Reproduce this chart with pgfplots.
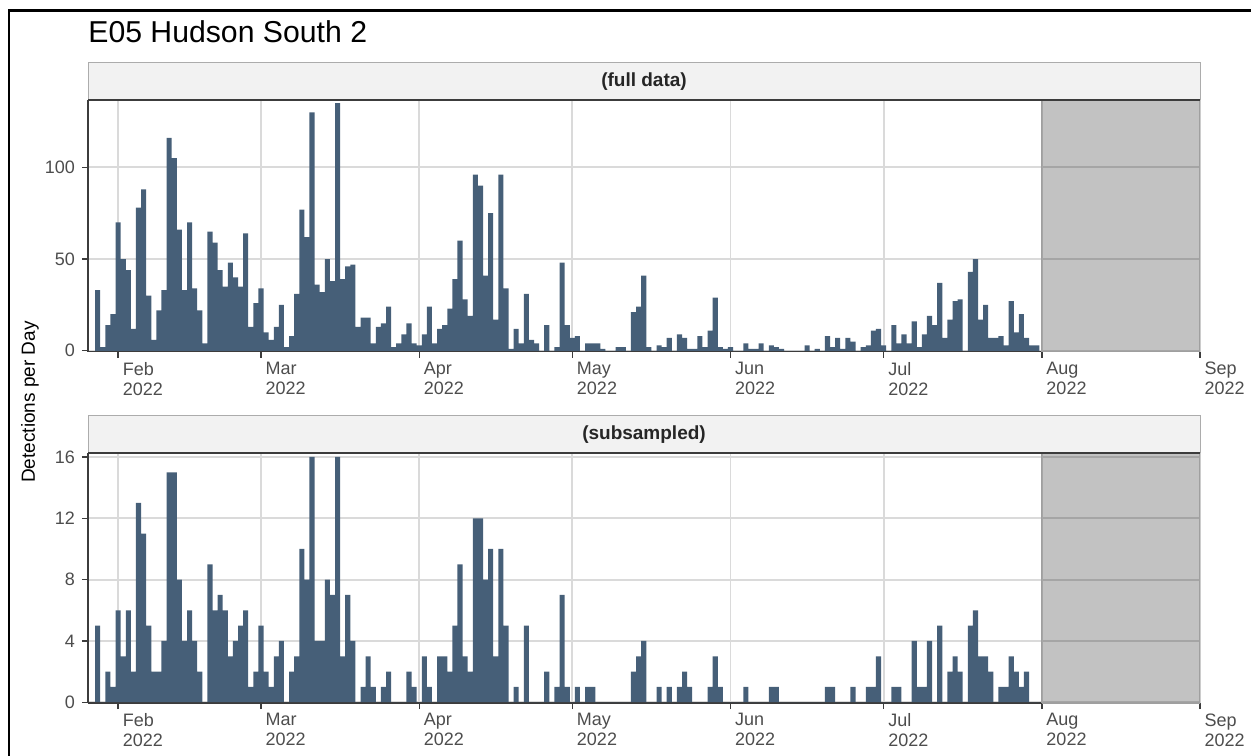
\documentclass[border=0pt]{standalone}
\usepackage{fontspec}
\setmainfont{Liberation Sans}
\usepackage{pgfplots}
\usepackage{pgfplotstable}
\pgfplotsset{compat=1.18}
\definecolor{barcol}{RGB}{70,95,120}
\definecolor{gridcol}{RGB}{218,218,218}
\definecolor{stripfill}{RGB}{242,242,242}
\definecolor{ticktext}{RGB}{77,77,77}
\definecolor{axcol}{RGB}{60,60,60}

\pgfplotstableread{
day full sub
28 33 5
29 2 0
30 14 2
31 20 1
32 70 6
33 50 3
34 44 6
35 12 2
36 78 13
37 88 11
38 30 5
39 6 2
40 22 2
41 33 4
42 116 15
43 105 15
44 66 8
45 33 4
46 70 6
47 34 4
48 22 2
49 4 0
50 65 9
51 59 6
52 44 7
53 35 6
54 48 3
55 40 4
56 35 5
57 64 6
58 13 1
59 26 2
60 34 5
61 10 2
62 6 1
63 13 3
64 25 4
65 2 0
66 8 2
67 31 3
68 77 10
69 62 8
70 130 16
71 36 4
72 32 4
73 50 8
74 38 7
75 135 16
76 39 3
77 46 7
78 47 4
79 13 0
80 18 1
81 18 3
82 4 1
83 13 0
84 15 1
85 24 2
86 2 0
87 4 0
88 9 0
89 15 2
90 4 1
91 3 0
92 9 3
93 24 1
94 4 0
95 12 3
96 14 3
97 23 2
98 39 5
99 60 9
100 28 3
101 19 2
102 96 12
103 90 12
104 41 8
105 75 10
106 17 3
107 96 10
108 34 5
109 1 0
110 12 1
111 4 0
112 31 5
113 6 0
114 4 0
115 0 0
116 14 2
117 0 0
118 2 1
119 48 7
120 14 1
121 7 0
122 8 1
123 0 0
124 4 1
125 4 1
126 4 0
127 1 0
128 0 0
129 0 0
130 2 0
131 2 0
132 0 0
133 21 2
134 24 3
135 41 4
136 2 0
137 0 0
138 3 1
139 2 0
140 7 1
141 0 0
142 9 1
143 7 2
144 1 1
145 1 0
146 8 0
147 2 0
148 11 1
149 29 3
150 2 1
151 1 0
152 2 0
153 0 0
154 0 0
155 4 1
156 1 0
157 1 0
158 4 0
159 0 0
160 3 1
161 2 1
162 1 0
163 0 0
164 0 0
165 0 0
166 0 0
167 3 0
168 0 0
169 1 0
170 0 0
171 8 1
172 2 1
173 7 0
174 1 0
175 7 0
176 5 1
177 0 0
178 2 0
179 3 1
180 11 1
181 12 3
182 3 0
183 0 0
184 14 1
185 4 1
186 9 0
187 4 0
188 16 4
189 2 1
190 9 1
191 19 4
192 14 0
193 37 5
194 7 0
195 17 2
196 27 3
197 28 2
198 0 0
199 43 5
200 50 6
201 17 3
202 25 3
203 7 2
204 7 0
205 8 1
206 3 1
207 27 3
208 10 2
209 20 1
210 7 2
211 3 0
212 3 0
}\datatable

\pgfplotsset{
  panel/.style={
    scale only axis,
    width=556pt,
    xmin=26.1, xmax=244,
    enlargelimits=false,
    axis lines=left,
    axis line style={-, draw=axcol, line width=0.8pt},
    grid=major,
    grid style={draw=gridcol, line width=0.95pt},
    tick align=outside,
    major tick length=3pt,
    tick style={draw=axcol, line width=0.7pt},
    xtick={32,60,91,121,152,182,213,244},
    xticklabels={Feb\\2022,Mar\\2022,Apr\\2022,May\\2022,Jun\\2022,Jul\\2022,Aug\\2022,Sep\\2022},
    xticklabel style={align=left, anchor=north west, xshift=-1.2pt, yshift=1.3pt, font=\fontsize{9}{10}\selectfont, text=ticktext},
    yticklabel style={font=\fontsize{9}{10}\selectfont, text=ticktext},
    /pgf/number format/assume math mode=true,
    clip=true,
  }
}

\begin{document}
\begin{tikzpicture}
\useasboundingbox (0pt,0pt) rectangle (625.5pt,377.5pt);
% outer frame
\draw[line width=1.2pt, black] (4.35pt,-1pt) -- (4.35pt,372.25pt) -- (626pt,372.25pt);
% title
\node[anchor=base west, inner sep=0pt, font=\fontsize{15.1}{18}\selectfont] at (44pt,356pt) {E05 Hudson South 2};
% y label
\node[rotate=90, font=\fontsize{9.5}{11}\selectfont] at (15pt,176.5pt) {Detections per Day};

% top panel
\begin{axis}[panel, at={(44pt,201.7pt)}, anchor=south west, height=125.8pt,
  ymin=-0.45, ymax=136.7, ytick={0,50,100}]
  \addplot[fill=black, fill opacity=0.24, draw=gray!75, line width=0.6pt]
    coordinates {(213,-0.45) (213,136.7) (244,136.7) (244,-0.45) (213,-0.45)};
  \addplot[ybar, bar width=1, bar shift=0pt, fill=barcol, draw=none]
    table[x=day, y=full] {\datatable};
\end{axis}

% bottom panel
\begin{axis}[panel, at={(44pt,26pt)}, anchor=south west, height=125pt,
  ymin=-0.05, ymax=16.26, ytick={0,4,8,12,16}]
  \addplot[fill=black, fill opacity=0.24, draw=gray!75, line width=0.6pt]
    coordinates {(213,-0.05) (213,16.26) (244,16.26) (244,-0.05) (213,-0.05)};
  \addplot[ybar, bar width=1, bar shift=0pt, fill=barcol, draw=none]
    table[x=day, y=sub] {\datatable};
\end{axis}

% strips
\draw[fill=stripfill, draw=gray!65, line width=0.5pt] (44pt,327.5pt) rectangle (600pt,346pt);
\draw[draw=axcol, line width=1pt] (44pt,327.5pt) -- (600pt,327.5pt);
\node[font=\bfseries\fontsize{9.5}{10}\selectfont, text=black!85] at (322pt,336.75pt) {(full data)};
\draw[fill=stripfill, draw=gray!65, line width=0.5pt] (44pt,151pt) rectangle (600pt,169.5pt);
\draw[draw=axcol, line width=1pt] (44pt,151pt) -- (600pt,151pt);
\node[font=\bfseries\fontsize{9.5}{10}\selectfont, text=black!85] at (322pt,160.25pt) {(subsampled)};
\end{tikzpicture}
\end{document}
